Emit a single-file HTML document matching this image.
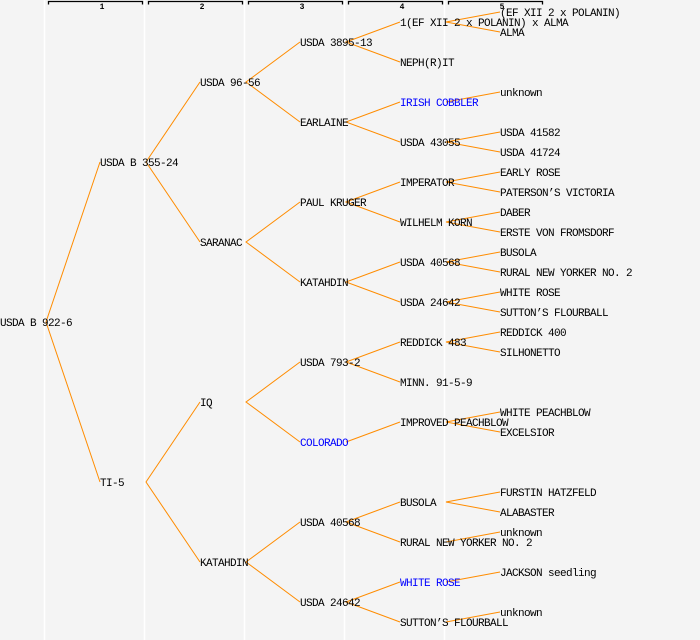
<!DOCTYPE html>
<html><head><meta charset="utf-8"><style>
html,body{margin:0;padding:0;background:#f4f4f4;}
svg{display:block;}
text{font-family:"Liberation Mono",monospace;font-size:11px;letter-spacing:-0.6px;fill:#000;}
.b{fill:#0000ff;}
.h{font-size:8px;font-weight:bold;letter-spacing:0;}
</style></head><body>
<svg width="700" height="640" viewBox="0 0 700 640" xmlns="http://www.w3.org/2000/svg">
<rect width="700" height="640" fill="#f4f4f4"/>
<g stroke="#ffffff" stroke-width="1.5">
<line x1="44.5" y1="0" x2="44.5" y2="640"/>
<line x1="144.5" y1="0" x2="144.5" y2="640"/>
<line x1="244.5" y1="0" x2="244.5" y2="640"/>
<line x1="344.5" y1="0" x2="344.5" y2="640"/>
<line x1="444.5" y1="0" x2="444.5" y2="640"/>
</g>
<g stroke="#000" stroke-width="1.3" fill="none">
<path d="M48.5 4.5V1.5H142.5V4.5"/>
<path d="M148.5 4.5V1.5H242.5V4.5"/>
<path d="M248.5 4.5V1.5H342.5V4.5"/>
<path d="M348.5 4.5V1.5H442.5V4.5"/>
<path d="M448.5 4.5V1.5H542.5V4.5"/>
</g>
<text class="h" x="102" y="9" text-anchor="middle">1</text>
<text class="h" x="202" y="9" text-anchor="middle">2</text>
<text class="h" x="302" y="9" text-anchor="middle">3</text>
<text class="h" x="402" y="9" text-anchor="middle">4</text>
<text class="h" x="502" y="9" text-anchor="middle">5</text>
<g stroke="#ff8c00" stroke-width="1" fill="none">
<path d="M100 162L46 322L100 482"/>
<path d="M200 82L146 162L200 242"/>
<path d="M200 402L146 482L200 562"/>
<path d="M300 42L246 82L300 122"/>
<path d="M300 202L246 242L300 282"/>
<path d="M300 362L246 402L300 442"/>
<path d="M300 522L246 562L300 602"/>
<path d="M400 22L346 42L400 62"/>
<path d="M400 102L346 122L400 142"/>
<path d="M400 182L346 202L400 222"/>
<path d="M400 262L346 282L400 302"/>
<path d="M400 342L346 362L400 382"/>
<path d="M400 422L346 442"/>
<path d="M400 502L346 522L400 542"/>
<path d="M400 582L346 602L400 622"/>
<path d="M500 12L446 22L500 32"/>
<path d="M500 92L446 102"/>
<path d="M500 132L446 142L500 152"/>
<path d="M500 172L446 182L500 192"/>
<path d="M500 212L446 222L500 232"/>
<path d="M500 252L446 262L500 272"/>
<path d="M500 292L446 302L500 312"/>
<path d="M500 332L446 342L500 352"/>
<path d="M500 412L446 422L500 432"/>
<path d="M500 492L446 502L500 512"/>
<path d="M500 532L446 542"/>
<path d="M500 572L446 582"/>
<path d="M500 612L446 622"/>
</g>
<g>
<text x="0" y="326">USDA B 922-6</text>
<text x="100" y="166">USDA B 355-24</text>
<text x="100" y="486">TI-5</text>
<text x="200" y="86">USDA 96-56</text>
<text x="200" y="246">SARANAC</text>
<text x="200" y="406">IQ</text>
<text x="200" y="566">KATAHDIN</text>
<text x="300" y="46">USDA 3895-13</text>
<text x="300" y="126">EARLAINE</text>
<text x="300" y="206">PAUL KRUGER</text>
<text x="300" y="286">KATAHDIN</text>
<text x="300" y="366">USDA 793-2</text>
<text class="b" x="300" y="446">COLORADO</text>
<text x="300" y="526">USDA 40568</text>
<text x="300" y="606">USDA 24642</text>
<text x="400" y="26">1(EF XII 2 x POLANIN) x ALMA</text>
<text x="400" y="66">NEPH(R)IT</text>
<text class="b" x="400" y="106">IRISH COBBLER</text>
<text x="400" y="146">USDA 43055</text>
<text x="400" y="186">IMPERATOR</text>
<text x="400" y="226">WILHELM KORN</text>
<text x="400" y="266">USDA 40568</text>
<text x="400" y="306">USDA 24642</text>
<text x="400" y="346">REDDICK 483</text>
<text x="400" y="386">MINN. 91-5-9</text>
<text x="400" y="426">IMPROVED PEACHBLOW</text>
<text x="400" y="506">BUSOLA</text>
<text x="400" y="546">RURAL NEW YORKER NO. 2</text>
<text class="b" x="400" y="586">WHITE ROSE</text>
<text x="400" y="626">SUTTON’S FLOURBALL</text>
<text x="500" y="16">(EF XII 2 x POLANIN)</text>
<text x="500" y="36">ALMA</text>
<text x="500" y="96">unknown</text>
<text x="500" y="136">USDA 41582</text>
<text x="500" y="156">USDA 41724</text>
<text x="500" y="176">EARLY ROSE</text>
<text x="500" y="196">PATERSON’S VICTORIA</text>
<text x="500" y="216">DABER</text>
<text x="500" y="236">ERSTE VON FROMSDORF</text>
<text x="500" y="256">BUSOLA</text>
<text x="500" y="276">RURAL NEW YORKER NO. 2</text>
<text x="500" y="296">WHITE ROSE</text>
<text x="500" y="316">SUTTON’S FLOURBALL</text>
<text x="500" y="336">REDDICK 400</text>
<text x="500" y="356">SILHONETTO</text>
<text x="500" y="416">WHITE PEACHBLOW</text>
<text x="500" y="436">EXCELSIOR</text>
<text x="500" y="496">FURSTIN HATZFELD</text>
<text x="500" y="516">ALABASTER</text>
<text x="500" y="536">unknown</text>
<text x="500" y="576">JACKSON seedling</text>
<text x="500" y="616">unknown</text>
</g>
</svg>
</body></html>
